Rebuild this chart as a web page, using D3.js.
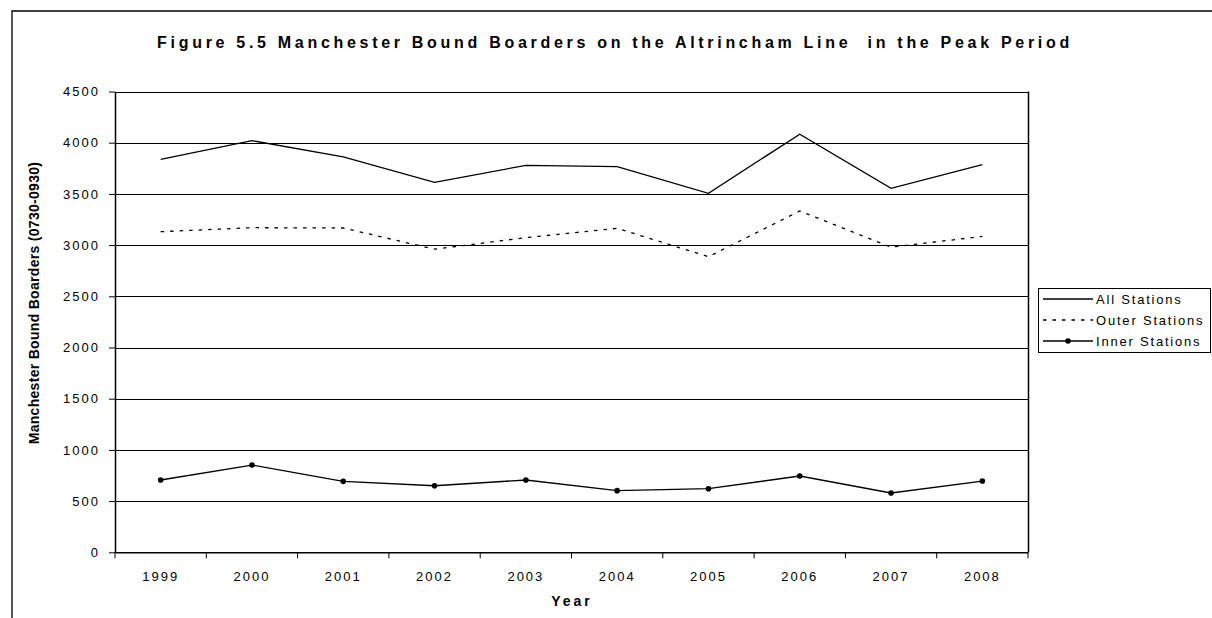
<!DOCTYPE html>
<html><head><meta charset="utf-8">
<script src="https://cdn.jsdelivr.net/npm/d3@7"></script>
<style>
html,body{margin:0;padding:0;background:#fff;}
text{font-family:Arial,"Liberation Sans",sans-serif;fill:#000;}
</style></head>
<body><svg id="c" width="1212" height="618"></svg>
<script>
const years = ["1999","2000","2001","2002","2003","2004","2005","2006","2007","2008"];
const allStations   = [3838,4020,3862,3612,3779,3766,3506,4083,3555,3785];
const outerStations = [3131,3170,3167,2960,3073,3164,2887,3333,2980,3085];
const innerStations = [706,852,693,650,706,602,621,745,579,696];
const yTicks = [0,500,1000,1500,2000,2500,3000,3500,4000,4500];
const seriesNames = ["All Stations","Outer Stations","Inner Stations"];
const titleText = "Figure 5.5 Manchester Bound Boarders on the Altrincham Line  in the Peak Period";

const svg = d3.select("#c");
const L=115, R=1028, T=91.5, B=552.3;

// outer frame
svg.append("path").attr("d","M12,618 L12,11 L1212,11").attr("fill","none").attr("stroke","#000").attr("stroke-width",1.3);

const x = d3.scaleBand().domain(years).range([L,R]).padding(0);
const y = d3.scaleLinear().domain([0,4500]).range([B,T]);

// gridlines
svg.append("g").selectAll("line").data(yTicks.filter(d=>d>0)).join("line")
  .attr("x1",L).attr("x2",R).attr("y1",d=>Math.round(y(d))+0.5).attr("y2",d=>Math.round(y(d))+0.5)
  .attr("stroke","#000").attr("stroke-width",1);
// right border
svg.append("line").attr("x1",R+0.5).attr("x2",R+0.5).attr("y1",T).attr("y2",B).attr("stroke","#000").attr("stroke-width",1.5);

// y axis
const ya = svg.append("g").attr("transform",`translate(${L},0)`)
  .call(d3.axisLeft(y).tickValues(yTicks).tickFormat(d3.format("d")).tickSize(6).tickSizeOuter(0).tickPadding(9));
ya.select(".domain").attr("stroke","#000").attr("stroke-width",1.5);
ya.selectAll("text").style("font-size","13px").style("letter-spacing","2px").attr("font-family",null);

// x axis with ticks at category boundaries
const xa = svg.append("g").attr("transform",`translate(0,${B})`)
  .call(d3.axisBottom(x).tickSize(0).tickPadding(19));
xa.select(".domain").attr("stroke","#000").attr("stroke-width",1.5);
xa.selectAll("text").style("font-size","13px").style("letter-spacing","2px").attr("font-family",null);
const bounds = years.map(d=>x(d)).concat([R]);
svg.append("g").selectAll("line").data(bounds).join("line")
  .attr("x1",d=>d).attr("x2",d=>d).attr("y1",B).attr("y2",B+6).attr("stroke","#000");

const cx = d=>x(d)+x.bandwidth()/2;
const line = arr => d3.line().x((v,i)=>cx(years[i])).y(v=>y(v))(arr);

svg.append("path").attr("d",line(allStations)).attr("fill","none").attr("stroke","#000").attr("stroke-width",1.3);
svg.append("path").attr("d",line(outerStations)).attr("fill","none").attr("stroke","#000").attr("stroke-width",1.3).attr("stroke-dasharray","3.5,6");
svg.append("path").attr("d",line(innerStations)).attr("fill","none").attr("stroke","#000").attr("stroke-width",1.3);
svg.append("g").selectAll("circle").data(innerStations).join("circle")
  .attr("cx",(v,i)=>cx(years[i])).attr("cy",v=>y(v)).attr("r",2.8).attr("fill","#000");

// title
svg.append("text").attr("x",615).attr("y",48).attr("text-anchor","middle")
  .style("white-space","pre")
  .style("font-size","16px").style("font-weight","bold").style("letter-spacing","3.7px").text(titleText);

// axis titles
svg.append("text").attr("transform","translate(39,303) rotate(-90)").attr("text-anchor","middle")
  .style("font-size","14px").style("font-weight","bold").style("letter-spacing","0.3px").text("Manchester Bound Boarders (0730-0930)");
svg.append("text").attr("x",572).attr("y",606).attr("text-anchor","middle")
  .style("font-size","14px").style("font-weight","bold").style("letter-spacing","3px").text("Year");

// legend
const lg = svg.append("g");
lg.append("rect").attr("x",1038.5).attr("y",288.5).attr("width",172).attr("height",64)
  .attr("fill","#fff").attr("stroke","#000").attr("stroke-width",1);
const rows = [299,320,341];
const dashes = [null,"3.5,6",null];
seriesNames.forEach((n,i)=>{
  lg.append("line").attr("x1",1043).attr("x2",1093).attr("y1",rows[i]).attr("y2",rows[i])
    .attr("stroke","#000").attr("stroke-width",1.3).attr("stroke-dasharray",dashes[i]);
  if(i===2) lg.append("circle").attr("cx",1068).attr("cy",rows[i]).attr("r",2.8).attr("fill","#000");
  lg.append("text").attr("x",1096).attr("y",rows[i]+4.5).style("font-size","13px").style("letter-spacing","1.8px").text(n);
});
</script></body></html>
